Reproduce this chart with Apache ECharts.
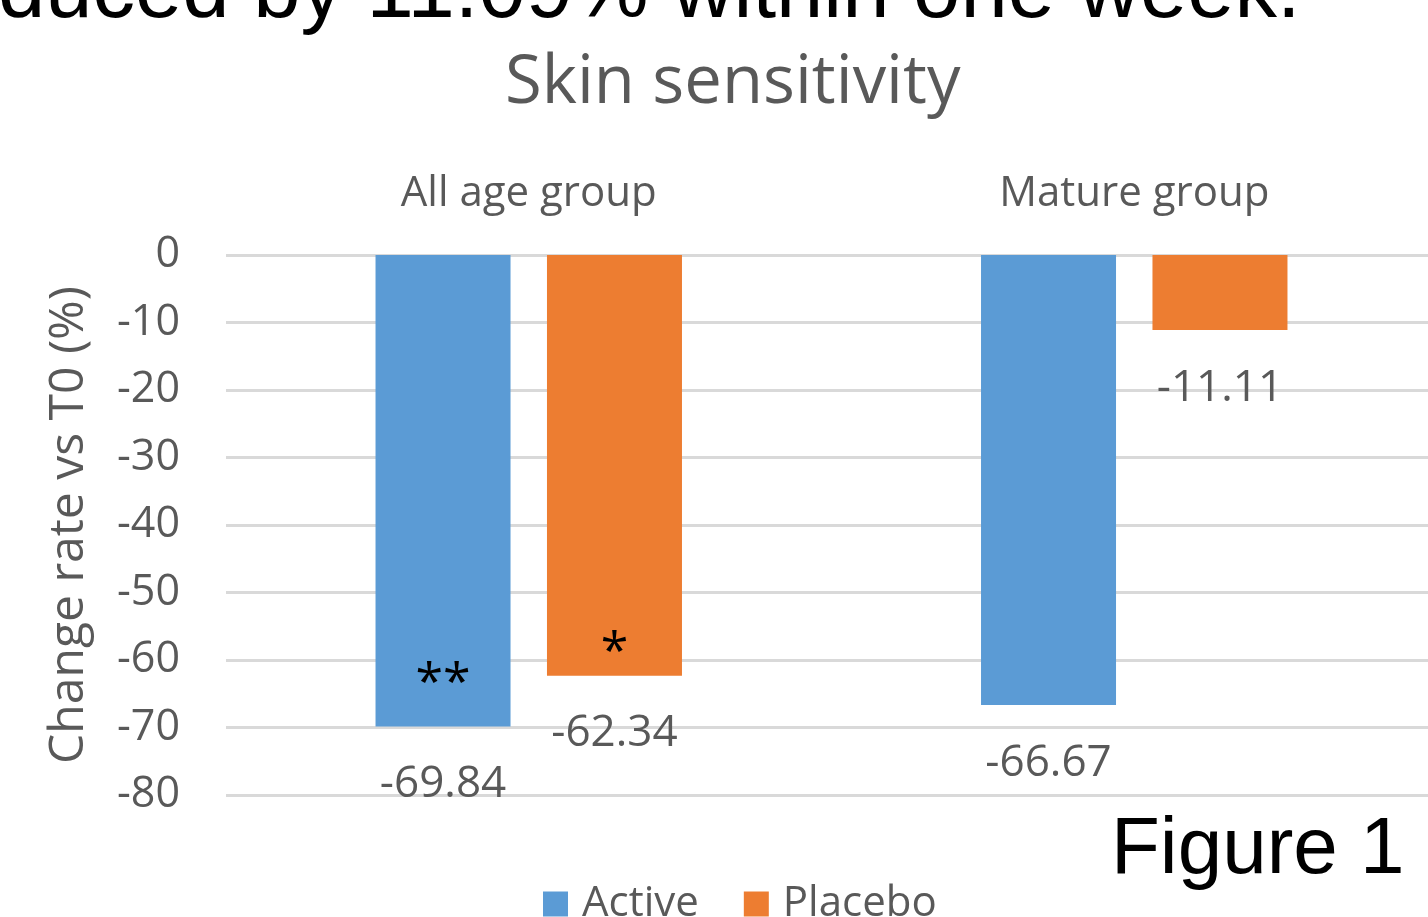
<!DOCTYPE html>
<html>
<head>
<meta charset="utf-8">
<script src="https://cdn.jsdelivr.net/npm/echarts@6/dist/echarts.min.js"></script>
<style>
html,body{margin:0;padding:0;background:#fff;}
#chart{width:1428px;height:917px;}
</style>
</head>
<body>
<div id="chart"></div>
<script>
const categories = ['All age group', 'Mature group'];
const activeValues = [-69.84, -66.67];
const placeboValues = [-62.34, -11.11];
const yTicks = { min: -80, max: 0, interval: 10 };
const significance = [
  { series: 'Active', category: 'All age group', mark: '**', at: -63.7 },
  { series: 'Placebo', category: 'All age group', mark: '*', at: -59.0 }
];
const headerText = 'duced by 11.09% within one week.';
const titleText = 'Skin sensitivity';
const yAxisName = 'Change rate vs T0 (%)';
const figureLabel = 'Figure 1';

const FONT = '"Open Sans", sans-serif';
const GRAY = '#595959';

function marks(name) {
  return significance.filter(s => s.series === name).map(s => ({
    coord: [s.category, s.at],
    label: { formatter: s.mark }
  }));
}

function barSeries(name, values, color) {
  return {
    name: name,
    type: 'bar',
    data: values,
    barWidth: 135,
    barGap: '27%',
    itemStyle: { color: color },
    label: {
      show: true,
      position: 'bottom',
      distance: 36,
      fontFamily: FONT,
      fontSize: 44,
      color: GRAY
    },
    markPoint: {
      symbol: 'circle',
      symbolSize: 1,
      itemStyle: { color: 'rgba(0,0,0,0)' },
      label: {
        show: true,
        position: 'inside',
        fontFamily: FONT,
        fontSize: 50,
        color: '#000'
      },
      data: marks(name)
    }
  };
}

const chart = echarts.init(document.getElementById('chart'));
chart.setOption({
  animation: false,
  backgroundColor: '#fff',
  title: {
    text: titleText,
    left: 500,
    top: 45,
    textStyle: { fontFamily: FONT, fontSize: 67, fontWeight: 'normal', color: GRAY }
  },
  legend: {
    data: ['Active', 'Placebo'],
    left: 538,
    top: 878,
    icon: 'rect',
    itemWidth: 25,
    itemHeight: 25,
    itemGap: 45,
    textStyle: { fontFamily: FONT, fontSize: 42, color: GRAY, padding: [0, 0, 0, 9] }
  },
  grid: { left: 226, top: 255, width: 1211, bottom: 122, containLabel: false, outerBoundsMode: 'none' },
  xAxis: {
    type: 'category',
    position: 'top',
    data: categories,
    axisLine: { show: false },
    axisTick: { show: false },
    axisLabel: { fontFamily: FONT, fontSize: 42, color: GRAY, margin: 40 }
  },
  yAxis: {
    type: 'value',
    min: yTicks.min,
    max: yTicks.max,
    interval: yTicks.interval,
    name: yAxisName,
    nameLocation: 'middle',
    nameRotate: 90,
    nameGap: 133,
    nameTextStyle: { fontFamily: FONT, fontSize: 48, color: GRAY },
    axisLine: { show: false },
    axisTick: { show: false },
    axisLabel: { fontFamily: FONT, fontSize: 43, color: GRAY, margin: 46 },
    splitLine: { lineStyle: { color: '#d9d9d9', width: 3 } }
  },
  series: [
    barSeries('Active', activeValues, '#5B9BD5'),
    barSeries('Placebo', placeboValues, '#ED7D31')
  ],
  graphic: [
    {
      type: 'text',
      left: -2,
      top: -49,
      style: { text: headerText, font: '85px "Liberation Sans", Arial, sans-serif', fill: '#000' }
    },
    {
      type: 'text',
      left: 1111,
      top: 811,
      style: { text: figureLabel, font: '80px "Liberation Sans", Arial, sans-serif', fill: '#000' }
    }
  ]
});
</script>
</body>
</html>
